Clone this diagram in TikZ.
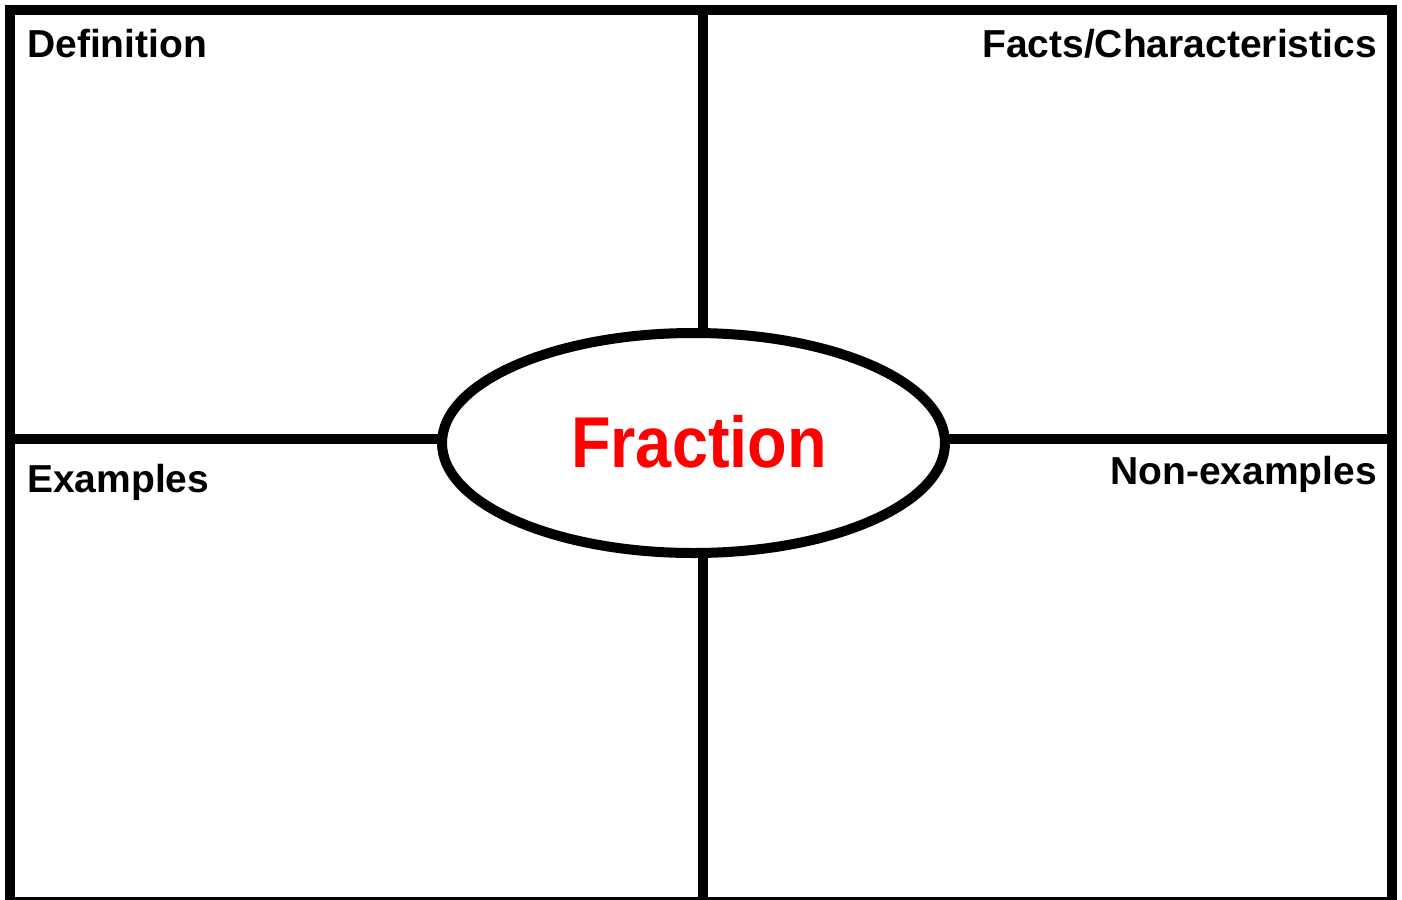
\documentclass[tikz,border=0pt]{standalone}
\usepackage{fontspec}
\setmainfont{Liberation Sans}
\usetikzlibrary{shapes.geometric}
\begin{document}
\begin{tikzpicture}[x=1pt,y=-1pt,
  heavy/.style={line width=10pt,draw=black},
  label/.style={font=\fontsize{39}{39}\selectfont\bfseries,inner sep=0pt}]
\useasboundingbox (0,0) rectangle (1402,899);
\fill[white] (0,0) rectangle (1402,899);
\draw[heavy] (10,10) rectangle (1392,902);
\node[ellipse,minimum width=503pt,minimum height=220pt,inner sep=0pt] (frac) at (693.5,443) {};
\coordinate (top) at (703,10);
\coordinate (bot) at (703,902);
\coordinate (lft) at (10,439);
\coordinate (rgt) at (1392,439);
\draw[heavy] (top) -- (top |- frac.center);
\draw[heavy] (bot) -- (bot |- frac.center);
\draw[heavy] (lft) -- (lft -| frac.center);
\draw[heavy] (rgt) -- (rgt -| frac.center);
\node[heavy,fill=white,ellipse,minimum width=503pt,minimum height=220pt,inner sep=0pt] (frac2) at (frac.center) {};
\node[inner sep=0pt,anchor=base,text=red,xscale=0.9,font=\fontsize{72}{72}\selectfont\bfseries] (ftext) at (699,467) {Fraction};
\node[label,anchor=base west] (def) at (27,58) {Definition};
\node[label,anchor=base east] (facts) at (1377,57) {Facts/Characteristics};
\node[label,anchor=base west] (ex) at (27,492) {Examples};
\node[label,anchor=base east] (nonex) at (1377,484) {Non-examples};
\end{tikzpicture}
\end{document}
